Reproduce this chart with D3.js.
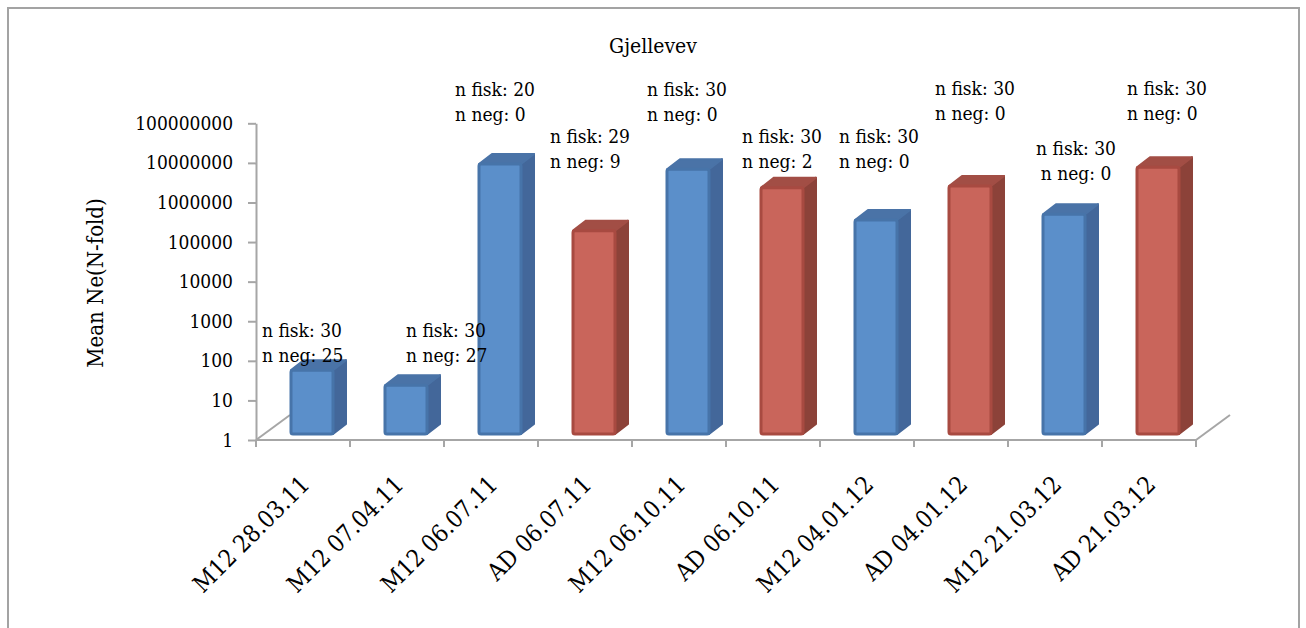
<!DOCTYPE html>
<html>
<head>
<meta charset="utf-8">
<script src="https://cdn.jsdelivr.net/npm/d3@7"></script>
<style>
  html, body { margin: 0; padding: 0; background: #ffffff; }
  svg { display: block; }
  text { font-family: 'DejaVu Serif Condensed', 'DejaVu Serif', serif; font-stretch: condensed; fill: #000; }
</style>
</head>
<body>
<div id="chart"></div>
<script>
// Sampling dates per method (x categories)
const categories = [
  "M12 28.03.11", "M12 07.04.11", "M12 06.07.11", "AD 06.07.11", "M12 06.10.11",
  "AD 06.10.11", "M12 04.01.12", "AD 04.01.12", "M12 21.03.12", "AD 21.03.12"
];
// Analysis method for each category
const method = ["M12", "M12", "M12", "AD", "M12", "AD", "M12", "AD", "M12", "AD"];
// Mean Ne (N-fold) per category
const meanNe = [41, 17, 6600000, 137000, 4850000, 1670000, 254000, 1840000, 354000, 5450000];
// Number of fish and number of negatives per category
const nFisk = [30, 30, 20, 29, 30, 30, 30, 30, 30, 30];
const nNeg = [25, 27, 0, 9, 0, 2, 0, 0, 0, 0];
// Log axis ticks
const tickValues = [1, 10, 100, 1000, 10000, 100000, 1000000, 10000000, 100000000];
const tickLabels = ["1", "10", "100", "1000", "10000", "100000", "1000000", "10000000", "100000000"];

const W = 1306, H = 628;
const plot = { left: 256, right: 1196, top: 123.3, bottom: 440 };
const floorDepth = { dx: 34, dy: -25 };
const barDepth = { dx: 13, dy: -10 };
const barLift = 6, barShift = 9, barHalf = 21;

// Annotation block positions (left/centre x, first baseline y, anchor)
const notePos = [
  [262, 337, "start"], [406, 337, "start"], [455, 96, "start"], [550, 143, "start"],
  [647, 96, "start"], [742, 143, "start"], [839, 143, "start"], [935, 95, "start"],
  [1076, 155, "middle"], [1127, 95, "start"]
];

const palette = {
  M12: { front: "#5b8fca", edge: "#4774a9", side: "#43679a", top: "#4a73a7" },
  AD:  { front: "#c9655b", edge: "#a84a41", side: "#8c4239", top: "#a24e45" }
};

const svg = d3.select("#chart").append("svg").attr("width", W).attr("height", H);

// Outer frame
svg.append("rect")
  .attr("x", 8).attr("y", 8).attr("width", 1291).attr("height", 660)
  .attr("fill", "#fff").attr("stroke", "#a3a3a3").attr("stroke-width", 2);

const x = d3.scaleBand().domain(categories).range([plot.left, plot.right]);
const y = d3.scaleLog().domain([1, 1e8]).range([plot.bottom, plot.top]);

// Title
svg.append("text").attr("x", 653).attr("y", 53).attr("text-anchor", "middle")
  .style("font-size", "21px").text("Gjellevev");

// Y axis title
svg.append("text").attr("transform", "translate(103,283) rotate(-90)")
  .attr("text-anchor", "middle").style("font-size", "22px").text("Mean Ne(N-fold)");

const axisColor = "#a6a6a6";

// Floor edges (depth lines)
const y0 = y(1);
[plot.left, plot.right].forEach(px => {
  svg.append("line")
    .attr("x1", px).attr("y1", y0)
    .attr("x2", px + floorDepth.dx).attr("y2", y0 + floorDepth.dy)
    .attr("stroke", axisColor).attr("stroke-width", 2);
});

// Y axis
const yAxis = d3.axisLeft(y)
  .tickValues(tickValues)
  .tickFormat((d, i) => tickLabels[i])
  .tickSize(8).tickSizeOuter(0).tickPadding(15);
const gy = svg.append("g").attr("transform", `translate(${plot.left},0)`).call(yAxis);
gy.select(".domain").attr("stroke", axisColor).attr("stroke-width", 2);
gy.selectAll(".tick line").attr("stroke", axisColor).attr("stroke-width", 2);
gy.selectAll(".tick text").style("font-size", "19px").style("font-family", null).attr("fill", "#000");

// X axis line and category boundary ticks
svg.append("line").attr("x1", plot.left).attr("x2", plot.right)
  .attr("y1", y0).attr("y2", y0).attr("stroke", axisColor).attr("stroke-width", 2);
const bounds = categories.map(c => x(c)).concat([x(categories[categories.length - 1]) + x.bandwidth()]);
svg.selectAll(".xtick").data(bounds).enter().append("line")
  .attr("x1", d => d).attr("x2", d => d)
  .attr("y1", y0).attr("y2", y0 + 7)
  .attr("stroke", axisColor).attr("stroke-width", 2);

// Category labels, rotated
svg.selectAll(".xlab").data(categories).enter().append("text")
  .attr("text-anchor", "end")
  .attr("transform", d => `translate(${x(d) + x.bandwidth() / 2 + 8},${486}) rotate(-45)`)
  .style("font-size", "24px")
  .text(d => d);

// 3D columns
const bars = svg.selectAll(".bar").data(categories).enter().append("g");
bars.each(function (c, i) {
  const g = d3.select(this);
  const col = palette[method[i]];
  const cx = x(c) + x.bandwidth() / 2 + barShift;
  const l = cx - barHalf, r = cx + barHalf;
  const t = y(meanNe[i]) - barLift, b = y(1) - barLift;
  const dx = barDepth.dx, dy = barDepth.dy;
  g.append("polygon")
    .attr("points", [[r, b], [r + dx, b + dy], [r + dx, t + dy], [r, t]].join(" "))
    .attr("fill", col.side).attr("stroke", col.side).attr("stroke-width", 2).attr("stroke-linejoin", "round");
  g.append("polygon")
    .attr("points", [[l, t], [l + dx, t + dy], [r + dx, t + dy], [r, t]].join(" "))
    .attr("fill", col.top).attr("stroke", col.top).attr("stroke-width", 2).attr("stroke-linejoin", "round");
  g.append("rect")
    .attr("x", l).attr("y", t).attr("width", r - l).attr("height", b - t)
    .attr("rx", 2).attr("fill", col.front).attr("stroke", col.edge).attr("stroke-width", 3);
});

// Annotations
categories.forEach((c, i) => {
  const [px, py, anchor] = notePos[i];
  const t = svg.append("text").attr("text-anchor", anchor).style("font-size", "19px");
  t.append("tspan").attr("x", px).attr("y", py).text(`n fisk: ${nFisk[i]}`);
  t.append("tspan").attr("x", px).attr("y", py + 24.5).text(`n neg: ${nNeg[i]}`);
});
</script>
</body>
</html>
